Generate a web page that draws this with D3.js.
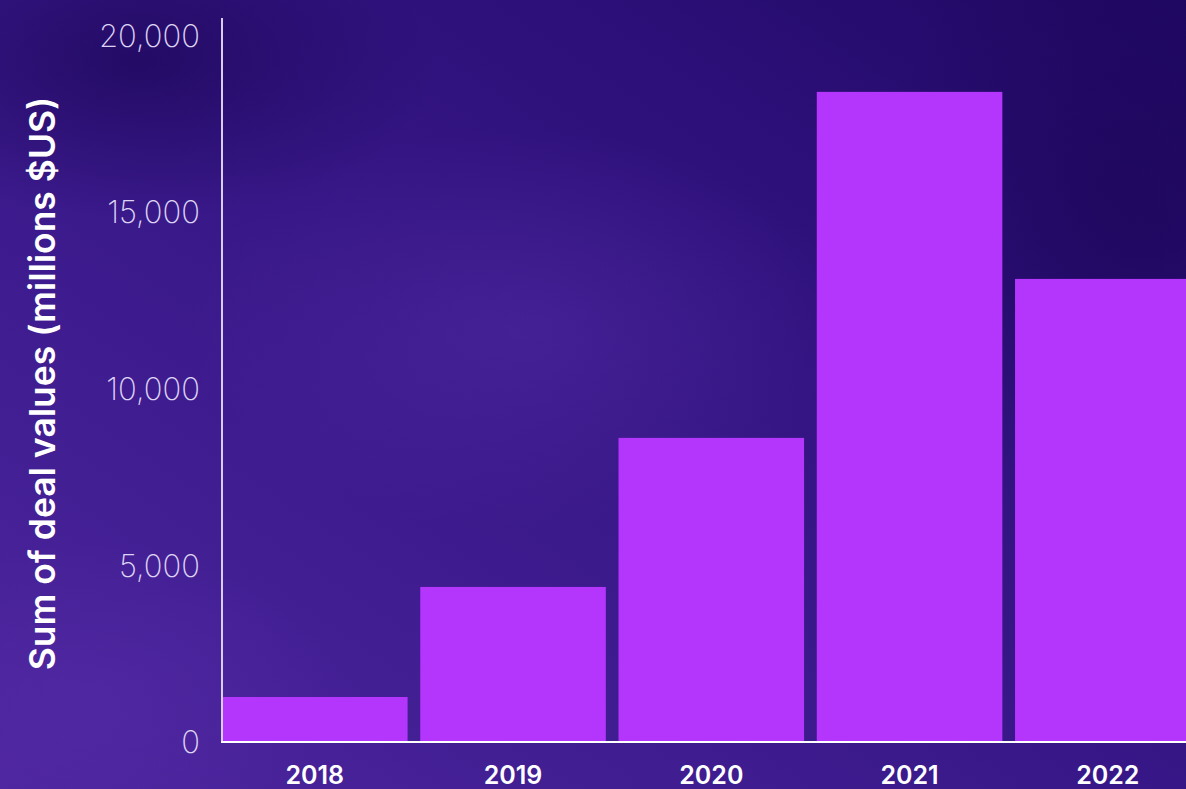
<!DOCTYPE html>
<html>
<head>
<meta charset="utf-8">
<script src="https://cdn.jsdelivr.net/npm/d3@7"></script>
<style>
  html, body { margin: 0; padding: 0; background: #2b0e74; }
  svg { display: block; }
</style>
</head>
<body>
<svg id="chart" width="1186" height="789"></svg>
<script>
const categories = ["2018", "2019", "2020", "2021", "2022"];
const values = [1260, 4375, 8595, 18390, 13095];
const yTicks = [0, 5000, 10000, 15000, 20000];
const yTitle = "Sum of deal values (millions $US)";

const W = 1186, H = 789;
const svg = d3.select("#chart");
const defs = svg.append("defs");

// background
const lg = defs.append("linearGradient").attr("id", "bg").attr("x1", "0").attr("y1", "1").attr("x2", "1").attr("y2", "0");
lg.append("stop").attr("offset", "0%").attr("stop-color", "#4d259e");
lg.append("stop").attr("offset", "40%").attr("stop-color", "#3b1a8c");
lg.append("stop").attr("offset", "75%").attr("stop-color", "#2c0f78");
lg.append("stop").attr("offset", "100%").attr("stop-color", "#1f0862");
svg.append("rect").attr("width", W).attr("height", H).attr("fill", "url(#bg)");

const rg1 = defs.append("radialGradient").attr("id", "glow1");
rg1.append("stop").attr("offset", "0%").attr("stop-color", "#5a30ad").attr("stop-opacity", 0.4);
rg1.append("stop").attr("offset", "100%").attr("stop-color", "#5a30ad").attr("stop-opacity", 0);
svg.append("ellipse").attr("cx", 520).attr("cy", 330).attr("rx", 330).attr("ry", 200).attr("fill", "url(#glow1)");
svg.append("ellipse").attr("cx", 90).attr("cy", 700).attr("rx", 260).attr("ry", 160).attr("fill", "url(#glow1)");

const rg2 = defs.append("radialGradient").attr("id", "dark1");
rg2.append("stop").attr("offset", "0%").attr("stop-color", "#1c0658").attr("stop-opacity", 0.7);
rg2.append("stop").attr("offset", "100%").attr("stop-color", "#1c0658").attr("stop-opacity", 0);
svg.append("ellipse").attr("cx", 140).attr("cy", 60).attr("rx", 300).attr("ry", 160).attr("fill", "url(#dark1)");
svg.append("ellipse").attr("cx", 1130).attr("cy", 200).attr("rx", 260).attr("ry", 300).attr("fill", "url(#dark1)");

// scales
const x = d3.scaleBand().domain(categories).range([222, 1200.6]).paddingInner(0.064).paddingOuter(0);
const y = d3.scaleLinear().domain([0, 20000]).range([741.5, 35]);

// bars
svg.append("g").selectAll("rect").data(categories).join("rect")
  .attr("x", d => x(d))
  .attr("width", x.bandwidth())
  .attr("y", (d, i) => y(values[i]))
  .attr("height", (d, i) => y(0) - y(values[i]))
  .attr("fill", "#b436fd");

// y axis
const yAxis = d3.axisLeft(y).tickValues(yTicks).tickSize(0).tickPadding(22).tickFormat(d3.format(","));
const gy = svg.append("g").attr("transform", "translate(222,0)").call(yAxis);
gy.select(".domain").remove();
gy.selectAll("text")
  .attr("fill", "#ddd3f3")
  .attr("font-family", "Inter, 'Noto Sans', sans-serif")
  .attr("font-weight", 200)
  .attr("font-size", 31)
  .attr("dy", "0.36em");
svg.append("line").attr("x1", 222).attr("x2", 222).attr("y1", 18).attr("y2", 742)
  .attr("stroke", "#d9cdf2").attr("stroke-width", 2);

// x axis
const xAxis = d3.axisBottom(x).tickSize(0).tickPadding(0);
const gx = svg.append("g").attr("transform", "translate(0,742)").call(xAxis);
gx.select(".domain").remove();
gx.selectAll("text")
  .attr("fill", "#ffffff")
  .attr("font-family", "Inter, 'Noto Sans', sans-serif")
  .attr("font-weight", 600)
  .attr("font-size", 25)
  .attr("dy", "0")
  .attr("y", 42);
svg.append("line").attr("x1", 221).attr("x2", W).attr("y1", 742).attr("y2", 742)
  .attr("stroke", "#ffffff").attr("stroke-width", 2);

// y title
svg.append("text")
  .attr("transform", `translate(55,${(95 + 672) / 2}) rotate(-90)`)
  .attr("text-anchor", "middle")
  .attr("fill", "#ffffff")
  .attr("font-family", "Inter, 'Noto Sans', sans-serif")
  .attr("font-weight", 600)
  .attr("font-size", 35.5)
  .text(yTitle);
</script>
</body>
</html>
